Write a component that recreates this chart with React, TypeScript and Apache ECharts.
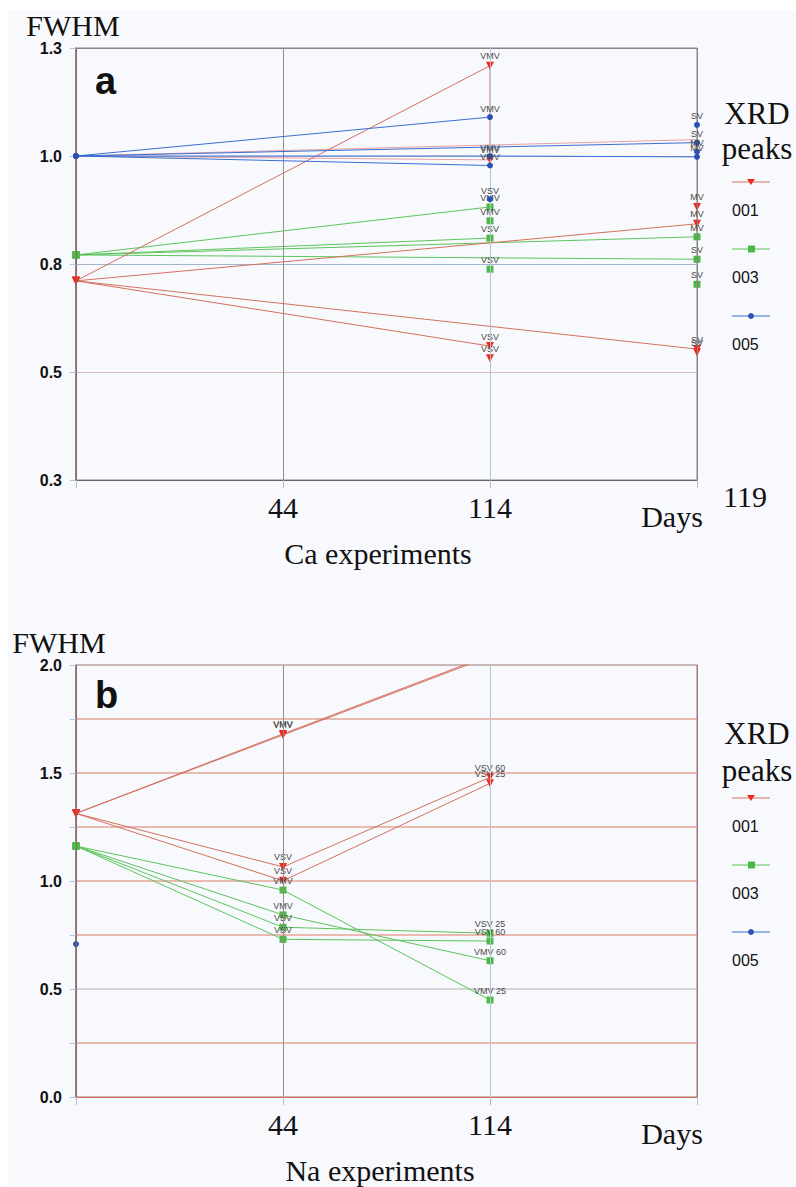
import React, { useEffect, useRef } from 'react';
import * as echarts from 'echarts';

// ---------- data ----------
const days = ['0', '44', '114', '119'];
const dayLabels = ['', '44', '114', ''];
const caYTickLabels = ['0.3', '0.5', '0.8', '1.0', '1.3'];
const naRedGridValues = [0.25, 0.75, 1.0, 1.25, 1.5, 1.75];
const naGrayGridValues = [0.5];

// points: [dayIndex, FWHM, label]
// Panel a — Ca experiments
const ca001 = [
  [[0, 0.761, ''], [2, 1.259, 'VMV'], [2, 1.041, 'VMV']],
  [[0, 0.761, ''], [3, 0.893, 'MV']],
  [[0, 0.761, ''], [3, 0.603, 'SV']],
  [[0, 0.761, ''], [2, 0.61, 'VSV']],
  [[2, 0.582, 'VSV']],
  [[3, 0.932, 'MV']],
  [[3, 0.596, 'SV']],
];
const ca001Faint = [
  [[0, 1.05, ''], [3, 1.088, '']],
  [[0, 1.05, ''], [2, 1.041, '']],
];
const ca003 = [
  [[0, 0.821, ''], [2, 0.932, 'VMV']],
  [[0, 0.821, ''], [2, 0.86, 'VSV']],
  [[0, 0.821, ''], [3, 0.863, 'MV']],
  [[0, 0.821, ''], [3, 0.811, 'SV']],
  [[2, 0.9, 'VMV']],
  [[2, 0.788, 'VSV']],
  [[3, 0.753, 'SV']],
];
const ca005 = [
  [[0, 1.05, ''], [2, 1.14, 'VMV']],
  [[0, 1.05, ''], [3, 1.081, 'SV']],
  [[0, 1.05, ''], [2, 1.05, 'VMV'], [3, 1.048, 'MV']],
  [[0, 1.05, ''], [2, 1.028, 'VMV']],
  [[2, 0.95, 'VSV']],
  [[3, 1.122, 'SV']],
  [[3, 1.06, 'MV']],
];

// Panel b — Na experiments
const na001 = [
  [[0, 1.313, ''], [1, 1.676, 'VMV'], [2, 2.04, '']],
  [[0, 1.313, ''], [1, 1.681, 'VMV'], [2, 2.046, '']],
  [[0, 1.313, ''], [1, 1.065, 'VSV'], [2, 1.48, 'VSV 60']],
  [[0, 1.313, ''], [1, 1.001, 'VSV'], [2, 1.452, 'VSV 25']],
];
const na003 = [
  [[0, 1.162, ''], [1, 0.958, 'VMV'], [2, 0.449, 'VMV 25']],
  [[0, 1.162, ''], [1, 0.843, 'VMV'], [2, 0.631, 'VMV 60']],
  [[0, 1.162, ''], [1, 0.786, 'VSV'], [2, 0.758, 'VSV 25']],
  [[0, 1.162, ''], [1, 0.73, 'VSV'], [2, 0.722, 'VSV 60']],
];
const na005 = [[[0, 0.708, '']]];

const peakNames = ['001', '003', '005'];

// ---------- styles ----------
const SERIF = "'Liberation Serif', 'Times New Roman', serif";
const SANS = "'Liberation Sans', Arial, sans-serif";
const RED_LINE = '#d4705f';
const RED_MARK = '#ee2a1e';
const GREEN_LINE = '#5cc45c';
const GREEN_MARK = '#4cb848';
const BLUE_LINE = '#3a6fd0';
const BLUE_MARK = '#2d50b4';

const peakStyles: Record<string, any> = {
  '001': { line: RED_LINE, mark: RED_MARK, symbol: 'triangle', rotate: 180, size: 8 },
  '003': { line: GREEN_LINE, mark: GREEN_MARK, symbol: 'rect', rotate: 0, size: 7 },
  '005': { line: BLUE_LINE, mark: BLUE_MARK, symbol: 'circle', rotate: 0, size: 6 },
};

function makeSeries(sets: any[], peak: string, gi: number, opts: any = {}) {
  const st = peakStyles[peak];
  return sets.map((pts: any[]) => ({
    type: 'line',
    xAxisIndex: gi,
    yAxisIndex: gi,
    data: pts.map((p: any) => ({ value: [p[0], p[1]], txt: p[2] })),
    symbol: opts.noSymbol ? 'none' : st.symbol,
    symbolSize: st.size,
    symbolRotate: st.rotate,
    showAllSymbol: true,
    clip: true,
    lineStyle: { color: opts.lineColor || st.line, width: 1 },
    itemStyle: { color: st.mark },
    label: {
      show: !opts.noSymbol,
      position: 'top',
      distance: 1,
      fontSize: 9,
      fontFamily: SANS,
      color: '#4a4a4a',
      formatter: (p: any) => p.data.txt || '',
    },
    emphasis: { disabled: true },
    z: opts.z || 2,
  }));
}

// horizontal reference lines of panel b, drawn through the axes
function gridLineSeries(values: number[], color: string) {
  return values.map((v) => ({
    type: 'line',
    xAxisIndex: 1,
    yAxisIndex: 1,
    data: [[0, v], [days.length - 1, v]],
    symbol: 'none',
    silent: true,
    lineStyle: { color, width: 1 },
    emphasis: { disabled: true },
    z: 0,
  }));
}

function legendGraphics(top: number) {
  const els: any[] = [];
  peakNames.forEach((name, i) => {
    const y = top + i * 67;
    const st = peakStyles[name];
    els.push({
      type: 'line',
      shape: { x1: 732, y1: y, x2: 770, y2: y },
      style: { stroke: st.line, lineWidth: 1 },
    });
    if (name === '001') {
      els.push({ type: 'polygon', shape: { points: [[747, y - 3], [755, y - 3], [751, y + 3]] }, style: { fill: st.mark } });
    } else if (name === '003') {
      els.push({ type: 'rect', shape: { x: 748, y: y - 3.5, width: 7, height: 7 }, style: { fill: st.mark } });
    } else {
      els.push({ type: 'circle', shape: { cx: 751, cy: y, r: 3 }, style: { fill: st.mark } });
    }
    els.push({
      type: 'text',
      x: 732,
      y: y + 28,
      style: { text: name, font: `16px ${SANS}`, fill: '#111', textAlign: 'left', textVerticalAlign: 'middle' },
    });
  });
  return els;
}

function txt(text: string, x: number, y: number, font: string, align = 'center') {
  return {
    type: 'text',
    x,
    y,
    style: { text, font, fill: '#111', textAlign: align, textVerticalAlign: 'middle' },
  };
}

function xAxisCfg(gi: number, splitColors: string[], axisColor: string) {
  return {
    type: 'category',
    gridIndex: gi,
    data: days,
    boundaryGap: false,
    axisLine: { show: true, onZero: false, lineStyle: { color: axisColor, width: 1.2 } },
    axisTick: { show: true, length: 8, alignWithLabel: true, lineStyle: { color: '#b0c0d0' } },
    axisLabel: {
      show: true,
      margin: 12,
      fontSize: 30,
      fontFamily: SERIF,
      color: '#111',
      formatter: (v: string, i: number) => dayLabels[i] || '',
    },
    splitLine: { show: true, lineStyle: { color: splitColors, width: 1 } },
    z: 3,
  };
}

export default function App() {
  const ref = useRef<HTMLDivElement>(null);
  useEffect(() => {
    if (!ref.current) return;
    const chart = echarts.init(ref.current, undefined, { renderer: 'svg' });
    const option: any = {
      animation: false,
      backgroundColor: '#ffffff',
      grid: [
        { left: 76, top: 48, width: 621, height: 432, show: true, borderColor: '#8a8484', borderWidth: 1, backgroundColor: 'transparent' },
        { left: 76, top: 665, width: 621, height: 432, show: true, borderColor: '#9a7a74', borderWidth: 1, backgroundColor: 'transparent' },
      ],
      xAxis: [
        xAxisCfg(0, ['#8a6a6a', '#9a8a88', '#b4c4d0', '#8a8484'], '#6a6262'),
        xAxisCfg(1, ['#8a6a6a', '#9a8a88', '#b4c4d0', '#9a7a74'], '#d86a56'),
      ],
      yAxis: [
        {
          type: 'value',
          gridIndex: 0,
          min: 0.3,
          max: 1.3,
          interval: 0.25,
          axisLine: { show: true, lineStyle: { color: '#8a6a6a', width: 1.5 } },
          axisTick: { show: true, length: 6, lineStyle: { color: '#a8c8e0' } },
          axisLabel: {
            margin: 14,
            fontSize: 16,
            fontWeight: 'bold',
            fontFamily: SANS,
            color: '#111',
            formatter: (v: number) => caYTickLabels[Math.round((v - 0.3) / 0.25)] ?? '',
          },
          splitLine: { show: true, lineStyle: { color: ['#6a6262', '#d4bcbc', '#a0b4cc', '#b8c0d0', '#8a8484'], width: 1 } },
        },
        {
          type: 'value',
          gridIndex: 1,
          min: 0,
          max: 2,
          interval: 0.25,
          axisLine: { show: true, lineStyle: { color: '#8a6a6a', width: 1.5 } },
          axisTick: { show: true, length: 6, lineStyle: { color: '#a8c8e0' } },
          axisLabel: {
            margin: 14,
            fontSize: 16,
            fontWeight: 'bold',
            fontFamily: SANS,
            color: '#111',
            formatter: (v: number) => (Math.abs(v / 0.5 - Math.round(v / 0.5)) < 1e-6 ? v.toFixed(1) : ''),
          },
          splitLine: { show: false },
        },
      ],
      series: [
        ...gridLineSeries(naRedGridValues, '#de7a66'),
        ...gridLineSeries(naGrayGridValues, '#b4acac'),
        ...makeSeries(ca001Faint, '001', 0, { noSymbol: true, lineColor: '#e8a0a8', z: 1 }),
        ...makeSeries(ca003, '003', 0),
        ...makeSeries(ca001, '001', 0),
        ...makeSeries(ca005, '005', 0, { z: 3 }),
        ...makeSeries(na003, '003', 1),
        ...makeSeries(na001, '001', 1),
        ...makeSeries(na005, '005', 1),
      ],
      graphic: [
        { type: 'rect', shape: { x: 8, y: 10, width: 788, height: 1177 }, style: { fill: '#f8f9fc' }, z: -100, silent: true },
        txt('FWHM', 73, 25, `30px ${SERIF}`),
        txt('FWHM', 59, 642, `30px ${SERIF}`),
        txt('a', 95, 81, `bold 38px ${SANS}`, 'left'),
        txt('b', 95, 695, `bold 38px ${SANS}`, 'left'),
        txt('XRD', 757, 113, `31px ${SERIF}`),
        txt('peaks', 757, 148, `31px ${SERIF}`),
        txt('XRD', 757, 733, `31px ${SERIF}`),
        txt('peaks', 757, 770, `31px ${SERIF}`),
        ...legendGraphics(182),
        ...legendGraphics(798),
        txt('119', 723, 496, `30px ${SERIF}`, 'left'),
        txt('Days', 672, 516, `30px ${SERIF}`),
        txt('Days', 672, 1133, `30px ${SERIF}`),
        txt('Ca experiments', 378, 553, `30px ${SERIF}`),
        txt('Na experiments', 380, 1170, `30px ${SERIF}`),
      ],
    };
    chart.setOption(option);
    return () => chart.dispose();
  }, []);
  return <div ref={ref} style={{ position: 'absolute', left: 0, top: 0, width: 796, height: 1187 }} />;
}
